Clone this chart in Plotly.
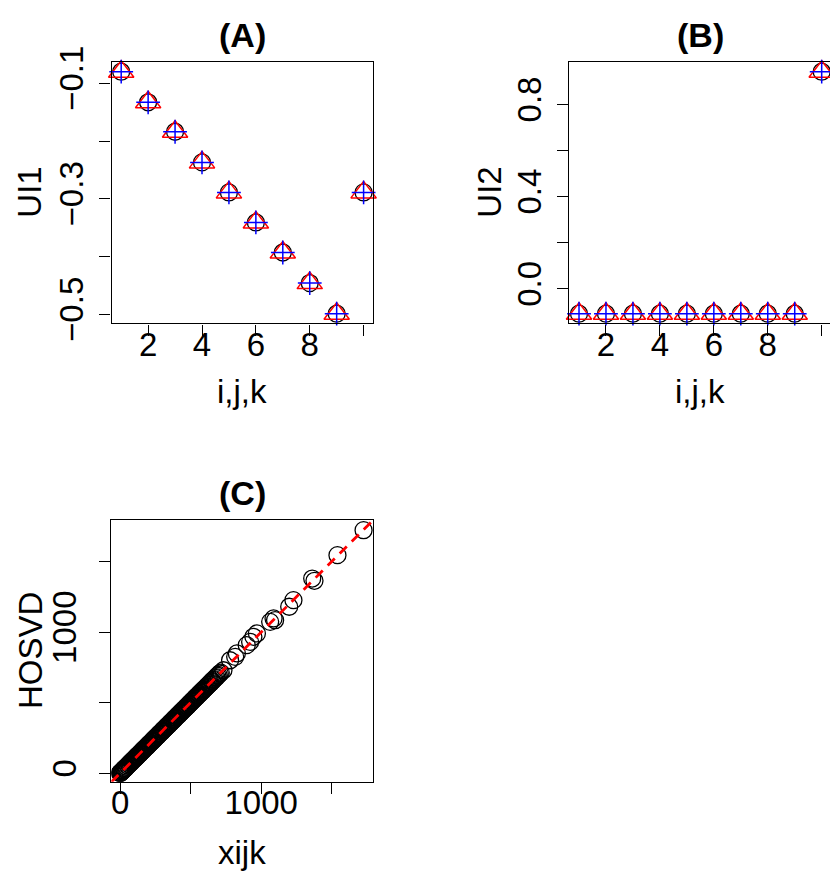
import plotly.graph_objects as go

W, H = 830, 876

# ---------------- data ----------------
idx = [1, 2, 3, 4, 5, 6, 7, 8, 9, 10]
# panel A (UI1) : three estimates (circle, triangle, plus)
ui1_circle = [-0.080, -0.133, -0.184, -0.237, -0.289, -0.341, -0.393, -0.446, -0.499, -0.289]
ui1_triangle = [-0.080, -0.133, -0.184, -0.237, -0.289, -0.341, -0.393, -0.446, -0.499, -0.289]
ui1_plus = [-0.080, -0.133, -0.184, -0.237, -0.289, -0.341, -0.393, -0.446, -0.499, -0.289]
# panel B (UI2)
ui2_circle = [-0.108, -0.108, -0.108, -0.108, -0.108, -0.108, -0.108, -0.108, -0.108, 0.942]
ui2_triangle = [-0.108, -0.108, -0.108, -0.108, -0.108, -0.108, -0.108, -0.108, -0.108, 0.942]
ui2_plus = [-0.108, -0.108, -0.108, -0.108, -0.108, -0.108, -0.108, -0.108, -0.108, 0.942]
# panel C: original entries vs HOSVD reconstruction
xijk = [0, 2, 5, 8, 12, 15, 19, 23, 27, 31,
        35, 40, 44, 48, 53, 57, 62, 66, 71, 75,
        80, 84, 89, 94, 98, 103, 108, 112, 117, 122,
        126, 131, 136, 141, 145, 150, 155, 160, 165, 169,
        174, 179, 184, 189, 194, 198, 203, 208, 213, 218,
        223, 228, 233, 238, 242, 247, 252, 257, 262, 267,
        272, 277, 282, 287, 292, 297, 302, 307, 312, 317,
        322, 327, 332, 337, 342, 347, 352, 357, 362, 367,
        372, 377, 382, 387, 392, 397, 402, 408, 413, 418,
        423, 428, 433, 438, 443, 449, 454, 459, 464, 469,
        474, 480, 485, 490, 495, 500, 506, 511, 516, 521,
        527, 532, 537, 543, 548, 553, 559, 564, 569, 575,
        580, 586, 591, 597, 602, 608, 613, 619, 625, 631,
        637, 643, 649, 655, 661, 668, 675, 682, 690, 698,
        706, 714,
        733, 780, 816, 828, 898, 922, 945, 970, 1064, 1088,
        1099, 1199, 1229, 1362, 1378, 1541, 1726]
hosvd = [1, 1, 6, 7, 13, 14, 20, 22, 28, 30,
         36, 39, 45, 47, 54, 56, 63, 65, 72, 74,
         81, 83, 90, 93, 99, 102, 109, 111, 118, 121,
         127, 130, 137, 140, 146, 149, 156, 159, 166, 168,
         175, 178, 185, 188, 195, 197, 204, 207, 214, 217,
         224, 227, 234, 237, 243, 246, 253, 256, 263, 266,
         273, 276, 283, 286, 293, 296, 303, 306, 313, 316,
         323, 326, 333, 336, 343, 346, 353, 356, 363, 366,
         373, 376, 383, 386, 393, 396, 403, 407, 414, 417,
         424, 427, 434, 437, 444, 448, 455, 458, 465, 468,
         475, 479, 486, 489, 496, 499, 507, 510, 517, 520,
         528, 531, 538, 542, 549, 552, 560, 563, 570, 574,
         581, 585, 592, 596, 603, 607, 614, 618, 626, 630,
         638, 642, 650, 654, 662, 667, 676, 681, 691, 697,
         707, 713,
         730, 801, 825, 849, 908, 931, 967, 991, 1073, 1097,
         1085, 1180, 1227, 1380, 1364, 1546, 1723]

ticks_idx = [2, 4, 6, 8, 10]
ticks_idx_text = ["2", "4", "6", "8", ""]
ticks_a = [-0.1, -0.2, -0.3, -0.4, -0.5]
ticks_a_text = ["\u22120.1", "", "\u22120.3", "", "\u22120.5"]
ticks_b = [0.0, 0.2, 0.4, 0.6, 0.8]
ticks_b_text = ["0.0", "", "0.4", "", "0.8"]
ticks_c = [0, 500, 1000, 1500]
ticks_c_text = ["0", "", "1000", ""]

# ---------------- layout helpers ----------------
FONT = "Liberation Sans, Arial, Helvetica, sans-serif"
FS = 33
FS_TITLE = 34


def px_x(v):
    return v / W


def px_y(v):
    return 1 - v / H


fig = go.Figure()


def add_points(xa, ya, xs, c, t, p):
    fig.add_trace(go.Scatter(x=xs, y=c, mode="markers", xaxis=xa, yaxis=ya,
                             marker=dict(symbol="circle-open", size=17,
                                         line=dict(color="black", width=1.3), color="black"),
                             cliponaxis=False, showlegend=False))
    fig.add_trace(go.Scatter(x=xs, y=t, mode="markers", xaxis=xa, yaxis=ya,
                             marker=dict(symbol="triangle-up-open", size=22,
                                         line=dict(color="red", width=1.5), color="red"),
                             cliponaxis=False, showlegend=False))
    fig.add_trace(go.Scatter(x=xs, y=p, mode="markers", xaxis=xa, yaxis=ya,
                             marker=dict(symbol="cross-thin-open", size=17,
                                         line=dict(color="blue", width=1.5), color="blue"),
                             cliponaxis=False, showlegend=False))


add_points("x", "y", idx, ui1_circle, ui1_triangle, ui1_plus)
add_points("x2", "y2", idx, ui2_circle, ui2_triangle, ui2_plus)

fig.add_trace(go.Scatter(x=xijk, y=hosvd, mode="markers", xaxis="x3", yaxis="y3",
                         marker=dict(symbol="circle-open", size=17,
                                     line=dict(color="black", width=1.3), color="black"),
                         showlegend=False))

range_c_x = [-62, 1795]
range_c_y = [-60, 1795]
diag = [min(range_c_x[0], range_c_y[0]), max(range_c_x[1], range_c_y[1])]
fig.add_trace(go.Scatter(x=diag, y=diag, mode="lines", xaxis="x3", yaxis="y3",
                         line=dict(color="red", width=2.8, dash="10px,7px"),
                         showlegend=False))

axis_common = dict(showline=True, linecolor="black", linewidth=1.3, ticks="outside",
                   ticklen=11, tickwidth=1.3, tickcolor="black", showgrid=False,
                   zeroline=False, automargin=False,
                   tickfont=dict(family=FONT, size=FS, color="black"))

yA = [px_y(323.4), px_y(62)]
XSTAND = -19
fig.update_layout(
    width=W, height=H, margin=dict(l=0, r=0, t=0, b=0),
    paper_bgcolor="white", plot_bgcolor="white",
    xaxis=dict(domain=[px_x(111.5), px_x(373.3)], range=[0.64, 10.36],
               tickvals=ticks_idx, ticktext=ticks_idx_text, anchor="y", mirror=True,
               ticklabelstandoff=XSTAND, **axis_common),
    yaxis=dict(domain=yA, range=[-0.5158, -0.0632], tickvals=ticks_a, ticktext=ticks_a_text,
               tickangle=-90, anchor="x", mirror=True, ticklabelstandoff=3, **axis_common),
    xaxis2=dict(domain=[px_x(569.3), 1.0], range=[0.64, 10.308],
                tickvals=ticks_idx, ticktext=ticks_idx_text, anchor="y2", mirror=True,
                ticklabelstandoff=XSTAND, **axis_common),
    yaxis2=dict(domain=yA, range=[-0.15, 0.984], tickvals=ticks_b, ticktext=ticks_b_text,
                tickangle=-90, anchor="x2", mirror=False, ticklabelstandoff=3, **axis_common),
    xaxis3=dict(domain=[px_x(111.3), px_x(373.3)], range=range_c_x,
                tickvals=ticks_c, ticktext=ticks_c_text, anchor="y3", mirror=True,
                ticklabelstandoff=XSTAND, **axis_common),
    yaxis3=dict(domain=[px_y(781.7), px_y(520)], range=range_c_y, tickvals=ticks_c,
                ticktext=ticks_c_text, tickangle=-90, anchor="x3", mirror=True,
                ticklabelstandoff=10, **axis_common),
)


def ann(text, x, y, angle=0, bold=False, size=FS):
    fig.add_annotation(text=("<b>%s</b>" % text) if bold else text,
                       x=px_x(x), y=px_y(y), xref="paper", yref="paper",
                       xanchor="center", yanchor="middle", showarrow=False,
                       textangle=angle,
                       font=dict(family=FONT, size=size, color="black"))


ann("(A)", 242, 35, bold=True, size=FS_TITLE)
ann("(B)", 700, 35, bold=True, size=FS_TITLE)
ann("(C)", 242, 493, bold=True, size=FS_TITLE)
ann("i,j,k", 242, 391)
ann("i,j,k", 700, 391)
ann("xijk", 242, 852)
ann("UI1", 30, 192.7, angle=-90)
ann("UI2", 490, 192.7, angle=-90)
ann("HOSVD", 30, 651, angle=-90)

fig.write_html("out.html")
